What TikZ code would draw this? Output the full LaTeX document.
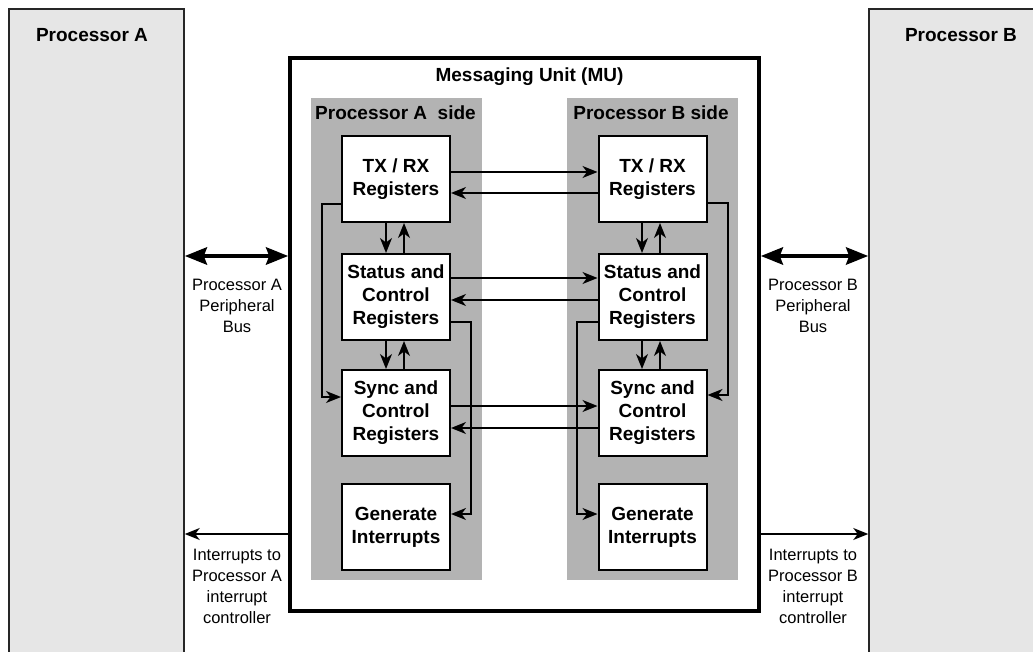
\documentclass[tikz,border=0pt]{standalone}
\usepackage{fontspec}
\setmainfont{Liberation Sans}
\usetikzlibrary{arrows.meta}
\definecolor{procgray}{HTML}{E6E6E6}
\definecolor{sidegray}{HTML}{B3B3B3}
\begin{document}
\begin{tikzpicture}[x=1pt,y=-1pt,
  procbox/.style={draw=black!85,line width=1.5pt,fill=procgray,rectangle,inner sep=0pt},
  mubox/.style={draw=black,line width=3.5pt,fill=white,rectangle,inner sep=0pt},
  sidebox/.style={fill=sidegray,rectangle,inner sep=0pt},
  regbox/.style={draw=black,line width=2pt,fill=white,rectangle,inner sep=0pt,
    minimum width=108pt,minimum height=86pt,align=center,
    font=\fontsize{19}{23}\selectfont\bfseries},
  title/.style={font=\fontsize{19}{23}\selectfont\bfseries},
  lbl/.style={font=\fontsize{16.5}{21}\selectfont,align=center},
  arr/.style={line width=1.7pt,-{Stealth[length=15pt,width=12pt,inset=4.5pt]}},
  bus/.style={line width=4.5pt,{Stealth[length=22pt,width=17pt,inset=3pt]}-{Stealth[length=22pt,width=17pt,inset=3pt]}}
]
\useasboundingbox (0,0) rectangle (1033,652);
\begin{scope}
\clip (0,0) rectangle (1033,652);
\node[procbox,minimum width=175pt,minimum height=651pt] (pa) at (96.5,334.5) {};
\node[procbox,minimum width=174pt,minimum height=651pt] (pb) at (956,334.5) {};
\end{scope}
\node[title] (pat) at (92,35) {Processor A};
\node[title] (pbt) at (961,35) {Processor B};

\node[mubox,minimum width=469pt,minimum height=553pt] (mu) at (524.5,334.5) {};
\node[title] (mut) at (529.5,77) {Messaging Unit (MU)};

\node[sidebox,minimum width=171pt,minimum height=482pt] (sa) at (396.5,339) {};
\node[sidebox,minimum width=171pt,minimum height=482pt] (sb) at (652.5,339) {};
\node[title] (sat) at (395.5,113) {Processor A\ \ side};
\node[title] (sbt) at (651,113) {Processor B side};

\node[regbox] (atx) at (396,179) {TX / RX\\Registers};
\node[regbox] (ast) at (396,297) {Status and\\Control\\Registers};
\node[regbox] (asy) at (396,413) {Sync and\\Control\\Registers};
\node[regbox] (agen) at (396,527) {Generate\\Interrupts};
\node[regbox] (btx) at (652.5,179) {TX / RX\\Registers};
\node[regbox] (bst) at (652.5,297) {Status and\\Control\\Registers};
\node[regbox] (bsy) at (652.5,413) {Sync and\\Control\\Registers};
\node[regbox] (bgen) at (652.5,527) {Generate\\Interrupts};

% horizontal connectors between sides
\draw[arr] (atx.east |- 0,172) -- (btx.west |- 0,172);
\draw[arr] (btx.west |- 0,193) -- (atx.east |- 0,193);
\draw[arr] (ast.east |- 0,278) -- (bst.west |- 0,278);
\draw[arr] (bst.west |- 0,300) -- (ast.east |- 0,300);
\draw[arr] (asy.east |- 0,406) -- (bsy.west |- 0,406);
\draw[arr] (bsy.west |- 0,428) -- (asy.east |- 0,428);

% vertical connectors
\draw[arr] (atx.south -| 386,0) -- (ast.north -| 386,0);
\draw[arr] (ast.north -| 404,0) -- (atx.south -| 404,0);
\draw[arr] (ast.south -| 386,0) -- (asy.north -| 386,0);
\draw[arr] (asy.north -| 404,0) -- (ast.south -| 404,0);
\draw[arr] (btx.south -| 642,0) -- (bst.north -| 642,0);
\draw[arr] (bst.north -| 660,0) -- (btx.south -| 660,0);
\draw[arr] (bst.south -| 642,0) -- (bsy.north -| 642,0);
\draw[arr] (bsy.north -| 660,0) -- (bst.south -| 660,0);

% loops
\draw[arr] (atx.west |- 0,204) -| (322,397) -- (asy.west |- 0,397);
\draw[arr] (ast.east |- 0,322) -| (471,514) -- (agen.east |- 0,514);
\draw[arr] (btx.east |- 0,203) -| (728,395) -- (bsy.east |- 0,395);
\draw[arr] (bst.west |- 0,322) -| (577,514) -- (bgen.west |- 0,514);

% buses
\draw[bus] (pa.east |- 0,256) -- (mu.west |- 0,256);
\draw[bus] (pb.west |- 0,256) -- (mu.east |- 0,256);
\node[lbl] (bla) at (237,306) {Processor A\\Peripheral\\Bus};
\node[lbl] (blb) at (813,306) {Processor B\\Peripheral\\Bus};

% interrupts
\draw[arr] (mu.west |- 0,534) -- (pa.east |- 0,534);
\draw[arr] (mu.east |- 0,534) -- (pb.west |- 0,534);
\node[lbl] (ila) at (237,586) {Interrupts to\\Processor A\\interrupt\\controller};
\node[lbl] (ilb) at (813,586) {Interrupts to\\Processor B\\interrupt\\controller};
\end{tikzpicture}
\end{document}
